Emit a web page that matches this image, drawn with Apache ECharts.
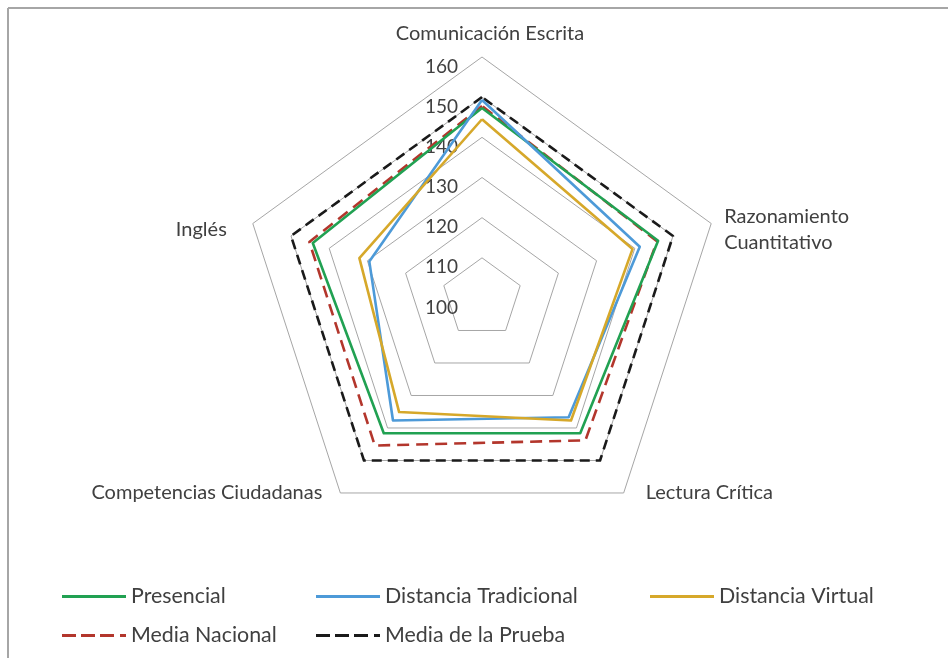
<!DOCTYPE html>
<html>
<head>
<meta charset="utf-8">
<script src="https://cdn.jsdelivr.net/npm/echarts@6/dist/echarts.min.js"></script>
<style>
  html, body { margin: 0; padding: 0; background: #fff; }
  #main { width: 948px; height: 658px; }
</style>
</head>
<body>
<div id="main"></div>
<script>
// 数据 (ejes en orden horario, desde arriba)
var ejes = ["Comunicación Escrita", "Razonamiento\nCuantitativo", "Lectura Crítica", "Competencias Ciudadanas", "Inglés"];
var presencial = [147.3, 146.1, 141.6, 141.6, 144.3];
var distanciaTradicional = [149.3, 141.3, 136.7, 137.7, 129.5];
var distanciaVirtual = [144.5, 139.4, 137.7, 135.1, 132.1];
var mediaNacional = [147.8, 145.8, 143.8, 145.4, 145.2];
var mediaPrueba = [150, 150, 150, 150, 150];
var escala = [100, 160];

(function() {
  var myChart = echarts.init(document.getElementById("main"));
  var font = "Lato, 'DejaVu Sans', sans-serif";
  var txt = "#404040";

  // ECharts coloca los ejes en sentido antihorario
  var orden = [0, 4, 3, 2, 1];
  function ccw(arr) {
    return orden.map(function(i) { return arr[i]; });
  }

  // ajuste de la posicion de los nombres (estilo), orden antihorario
  var nombreEstilo = [
    { pad: [0, 0, 10, 16], bajar: false },   // Comunicación Escrita
    { pad: [0, 26, 0, 0], bajar: true },     // Inglés
    { pad: [0, 18, 0, 0], bajar: false },    // Competencias Ciudadanas
    { pad: [0, 0, 0, 22], bajar: false },    // Lectura Crítica
    { pad: [0, 0, 0, 13], bajar: true }      // Razonamiento Cuantitativo
  ];

  var indicadores = ccw(ejes).map(function(n, k) {
    var o = {
      name: n,
      min: escala[0],
      max: escala[1],
      nameGap: 0,
      nameTextStyle: { padding: nombreEstilo[k].pad }
    };
    if (k === 0) {
      o.axisLabel = {
        show: true,
        margin: 24,
        verticalAlign: "top",
        color: txt,
        fontFamily: font,
        fontSize: 19
      };
    }
    return o;
  });

  var dash = "path://M0,0h14v3h-14zM19,0h14v3h-14zM38,0h14v3h-14zM58,0h6v3h-6z";
  var solid = "rect";

  function item(name, values, color, type) {
    return {
      name: name,
      value: ccw(values),
      symbol: "none",
      itemStyle: { color: color },
      lineStyle: { color: color, width: 2.6, type: type }
    };
  }

  function leyenda(name, icon, left, top) {
    return {
      data: [{ name: name, icon: icon }],
      left: left,
      top: top,
      padding: 0,
      itemWidth: 64,
      itemHeight: 3,
      itemStyle: { borderWidth: 0 },
      textStyle: { color: txt, fontFamily: font, fontSize: 21.4 },
      selectedMode: false
    };
  }

  var option = {
    animation: false,
    backgroundColor: "#fff",
    textStyle: { fontFamily: font },
    graphic: [
      { type: "line", shape: { x1: 8, y1: 8, x2: 948, y2: 8 }, style: { stroke: "#a6a6a6", lineWidth: 2 } },
      { type: "line", shape: { x1: 8, y1: 8, x2: 8, y2: 658 }, style: { stroke: "#a6a6a6", lineWidth: 2 } }
    ],
    legend: [
      leyenda("Presencial", solid, 62, 586),
      leyenda("Distancia Tradicional", solid, 316, 586),
      leyenda("Distancia Virtual", solid, 650, 586),
      leyenda("Media Nacional", dash, 62, 625),
      leyenda("Media de la Prueba", dash, 316, 625)
    ],
    radar: {
      center: [482, 298],
      radius: 241,
      startAngle: 90,
      shape: "polygon",
      splitNumber: 6,
      axisName: {
        color: txt,
        fontFamily: font,
        fontSize: 20,
        lineHeight: 26,
        rich: { e: { fontSize: 10, lineHeight: 13 } },
        formatter: function(name) {
          var k = ccw(ejes).indexOf(name);
          return nombreEstilo[k] && nombreEstilo[k].bajar ? "{e| }\n" + name : name;
        }
      },
      axisLine: { show: false },
      axisTick: { show: false },
      axisLabel: { show: false },
      splitArea: { show: false },
      splitLine: { lineStyle: { color: "#a6a6a6", width: 1 } },
      indicator: indicadores
    },
    series: [
      {
        type: "radar",
        symbol: "none",
        data: [
          item("Media de la Prueba", mediaPrueba, "#1a1a1a", [10, 6]),
          item("Media Nacional", mediaNacional, "#b3362c", [12, 7]),
          item("Presencial", presencial, "#21a152", "solid"),
          item("Distancia Tradicional", distanciaTradicional, "#4d9ad8", "solid"),
          item("Distancia Virtual", distanciaVirtual, "#d6a82a", "solid")
        ]
      }
    ]
  };

  myChart.setOption(option);
  window.addEventListener("resize", function() {
    myChart.resize();
  });
})();
</script>
</body>
</html>
